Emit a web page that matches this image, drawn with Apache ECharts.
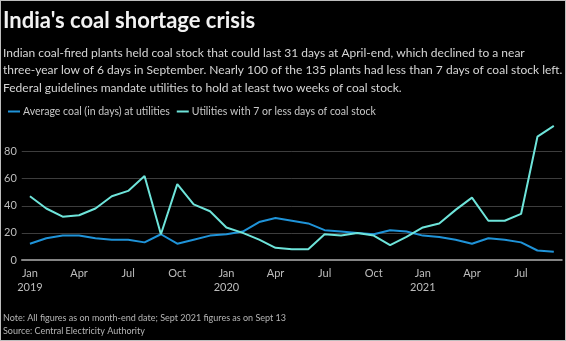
<!DOCTYPE html>
<html>
<head>
<meta charset="utf-8">
<script src="https://cdn.jsdelivr.net/npm/echarts@6/dist/echarts.min.js"></script>
<style>
  html, body { margin: 0; padding: 0; background: #fff; }
  #chart { width: 566px; height: 341px; box-sizing: border-box; border: 1px solid #bdbdbd; background: #000; }
</style>
</head>
<body>
<div id="chart"></div>
<script>
// Month-end figures, Jan 2019 – Sep 2021
const months = [
  'Jan 2019', 'Feb 2019', 'Mar 2019', 'Apr 2019', 'May 2019', 'Jun 2019',
  'Jul 2019', 'Aug 2019', 'Sep 2019', 'Oct 2019', 'Nov 2019', 'Dec 2019',
  'Jan 2020', 'Feb 2020', 'Mar 2020', 'Apr 2020', 'May 2020', 'Jun 2020',
  'Jul 2020', 'Aug 2020', 'Sep 2020', 'Oct 2020', 'Nov 2020', 'Dec 2020',
  'Jan 2021', 'Feb 2021', 'Mar 2021', 'Apr 2021', 'May 2021', 'Jun 2021',
  'Jul 2021', 'Aug 2021', 'Sep 2021'
];

// Average coal stock (in days) at utilities
const avgCoalDays = [
  12, 16, 18, 18, 16, 15, 15, 13, 19, 12, 15, 18,
  19, 21, 28, 31, 29, 27, 22, 21, 20, 19, 22, 21,
  18, 17, 15, 12, 16, 15, 13, 7, 6
];

// Number of utilities with 7 or fewer days of coal stock
const lowStockUtilities = [
  47, 38, 32, 33, 38, 47, 51, 62, 19, 56, 41, 36,
  24, 20, 15, 9, 8, 8, 19, 18, 20, 18, 11, 17,
  24, 27, 37, 46, 29, 29, 34, 91, 99
];

const yTicks = { min: 0, max: 100, interval: 20 };

const seriesNames = [
  'Average coal (in days) at utilities',
  'Utilities with 7 or less days of coal stock'
];

const titleText = "India's coal shortage crisis";
const subtitleLines = [
  'Indian coal-fired plants held coal stock that could last 31 days at April-end, which declined to a near',
  'three-year low of 6 days in September. Nearly 100 of the 135 plants had less than 7 days of coal stock left.',
  'Federal guidelines mandate utilities to hold at least two weeks of coal stock.'
];
const noteLines = [
  'Note: All figures as on month-end date; Sept 2021 figures as on Sept 13',
  'Source: Central Electricity Authority'
];

const FONT = 'Lato, "Open Sans", sans-serif';
const BLUE = '#1f93d8';
const CYAN = '#6ee4da';

const chart = echarts.init(document.getElementById('chart'), null, { renderer: 'canvas' });

chart.setOption({
  backgroundColor: '#000',
  animation: false,
  textStyle: { fontFamily: FONT },
  graphic: [
    {
      type: 'text',
      left: 2,
      top: 9,
      style: {
        text: titleText,
        fill: '#f2f2f2',
        font: 'bold 22px ' + FONT
      }
    },
    {
      type: 'text',
      left: 2,
      top: 43,
      style: {
        text: subtitleLines.join('\n'),
        fill: '#d6d6d6',
        font: '12px ' + FONT,
        lineHeight: 17.5
      }
    },
    {
      type: 'text',
      left: 2,
      top: 311,
      style: {
        text: noteLines.join('\n'),
        fill: '#b5b5b5',
        font: '9px ' + FONT,
        lineHeight: 13
      }
    }
  ],
  legend: {
    left: 2,
    top: 100,
    itemWidth: 12,
    itemHeight: 2,
    itemGap: 7,
    icon: 'rect',
    textStyle: { color: '#c8c8c8', fontSize: 10.5, fontFamily: FONT, padding: [0, 0, 0, -2] },
    data: seriesNames
  },
  grid: { left: 17, right: 3, top: 123.5, bottom: 80, containLabel: false },
  xAxis: {
    type: 'category',
    data: months,
    boundaryGap: true,
    axisLine: { show: true, lineStyle: { color: '#b0b0b0', width: 1.5 } },
    axisTick: { show: false },
    axisLabel: {
      interval: 2,
      color: '#bdbdbd',
      fontSize: 11,
      lineHeight: 14,
      margin: 6,
      formatter: function (value) {
        const parts = value.split(' ');
        return parts[0] === 'Jan' ? parts[0] + '\n' + parts[1] : parts[0];
      }
    },
    splitLine: { show: false }
  },
  yAxis: {
    type: 'value',
    min: yTicks.min,
    max: yTicks.max,
    interval: yTicks.interval,
    axisLine: { show: false },
    axisTick: { show: false },
    axisLabel: {
      color: '#bdbdbd',
      fontSize: 11,
      margin: 5,
      showMaxLabel: false
    },
    splitLine: {
      show: true,
      showMinLine: false,
      showMaxLine: false,
      lineStyle: { color: '#3d3d3d', width: 1 }
    }
  },
  series: [
    {
      name: seriesNames[0],
      type: 'line',
      data: avgCoalDays,
      symbol: 'none',
      color: BLUE,
      lineStyle: { width: 2, color: BLUE }
    },
    {
      name: seriesNames[1],
      type: 'line',
      data: lowStockUtilities,
      symbol: 'none',
      color: CYAN,
      lineStyle: { width: 2, color: CYAN }
    }
  ]
});
</script>
</body>
</html>
